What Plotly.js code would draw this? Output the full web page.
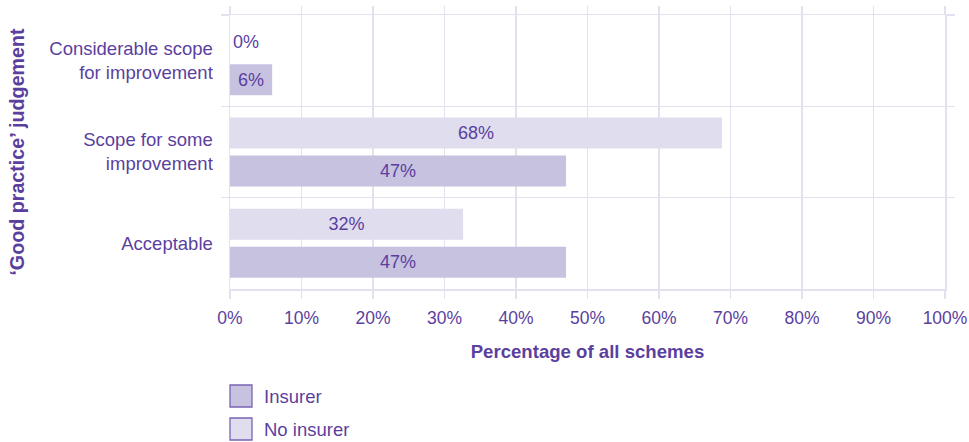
<!DOCTYPE html>
<html>
<head>
<meta charset="utf-8">
<script src="https://cdn.plot.ly/plotly-3.0.1.min.js"></script>
<style>html,body{margin:0;padding:0;background:#fff;}#chart{width:969px;height:442px;}</style>
</head>
<body>
<div id="chart"></div>
<script>
const categories = ["Considerable scope<br>for improvement", "Scope for some<br>improvement", "Acceptable"];
const seriesNames = ["No insurer", "Insurer"];
const noInsurerValues = [0, 68.8, 32.6];
const insurerValues = [5.9, 47, 47];
const noInsurerLabels = ["0%", "68%", "32%"];
const insurerLabels = ["6%", "47%", "47%"];
const xTickVals = [0, 10, 20, 30, 40, 50, 60, 70, 80, 90, 100];
const xTickText = ["0%", "10%", "20%", "30%", "40%", "50%", "60%", "70%", "80%", "90%", "100%"];

const purple = "#5b3f9e";
const grid = "#e3e0f0";
const colNo = "#dfddee";
const colIns = "#c6c2e0";
const font = "Liberation Sans, Arial, sans-serif";

const traces = [
  {
    type: "bar", orientation: "h", name: seriesNames[0],
    y: categories, x: noInsurerValues, text: noInsurerLabels,
    textposition: ["outside", "inside", "inside"], insidetextanchor: "middle",
    constraintext: "none", cliponaxis: false,
    textfont: {family: font, size: 18, color: purple},
    marker: {color: colNo}, hoverinfo: "x+y", showlegend: false
  },
  {
    type: "bar", orientation: "h", name: seriesNames[1],
    y: categories, x: insurerValues, text: insurerLabels,
    textposition: "inside", insidetextanchor: "middle",
    constraintext: "none",
    textfont: {family: font, size: 18, color: purple},
    marker: {color: colIns}, hoverinfo: "x+y", showlegend: false
  }
];

const legendItems = [{name: seriesNames[1], color: colIns}, {name: seriesNames[0], color: colNo}];
const shapes = [];
const annotations = [];
const W = 969, H = 442;
legendItems.forEach((it, i) => {
  const top = 385 + i * 33;
  shapes.push({type: "rect", xref: "paper", yref: "paper",
    x0: (230 - 230) / 715, x1: (252 - 230) / 715,
    y0: (289 - (top + 22)) / 274, y1: (289 - top) / 274,
    fillcolor: it.color, line: {color: "#7a63b4", width: 1.3}});
  annotations.push({xref: "paper", yref: "paper", x: (262 - 230) / 715, y: (289 - (top + 11)) / 274,
    text: it.name, showarrow: false, xanchor: "left", yanchor: "middle",
    font: {family: font, size: 18.5, color: purple}});
});

const layout = {
  width: W, height: H,
  margin: {l: 230, r: 24, t: 15, b: 153},
  paper_bgcolor: "#fff", plot_bgcolor: "#fff",
  barmode: "group", bargap: 0.168, bargroupgap: 0.184,
  showlegend: false,
  font: {family: font, size: 17, color: purple},
  xaxis: {
    range: [0, 100], tickvals: xTickVals, ticktext: xTickText,
    showgrid: true, gridcolor: grid, gridwidth: 1.5, zeroline: false,
    ticks: "outside", ticklen: 8, tickcolor: grid, tickwidth: 1.5, mirror: "ticks",
    showline: true, linecolor: grid, linewidth: 1.5,
    tickfont: {family: font, size: 17.5, color: purple},
    ticklabelstandoff: 4,
    title: {text: "<b>Percentage of all schemes</b>", font: {family: font, size: 18.6, color: purple}, standoff: 18},
    fixedrange: true
  },
  yaxis: {
    type: "category", autorange: "reversed", tickson: "boundaries",
    showgrid: true, gridcolor: grid, gridwidth: 1.5, zeroline: false,
    ticks: "outside", ticklen: 8, tickcolor: grid, tickwidth: 1.5, mirror: "ticks",
    showline: true, linecolor: grid, linewidth: 1.5,
    tickfont: {family: font, size: 18.5, color: purple},
    ticklabelstandoff: 12,
    title: {text: "<b>‘Good practice’ judgement</b>", font: {family: font, size: 19.7, color: purple}, standoff: 19},
    fixedrange: true
  },
  shapes: shapes,
  annotations: annotations
};

Plotly.newPlot("chart", traces, layout, {displayModeBar: false, staticPlot: true});
</script>
</body>
</html>
